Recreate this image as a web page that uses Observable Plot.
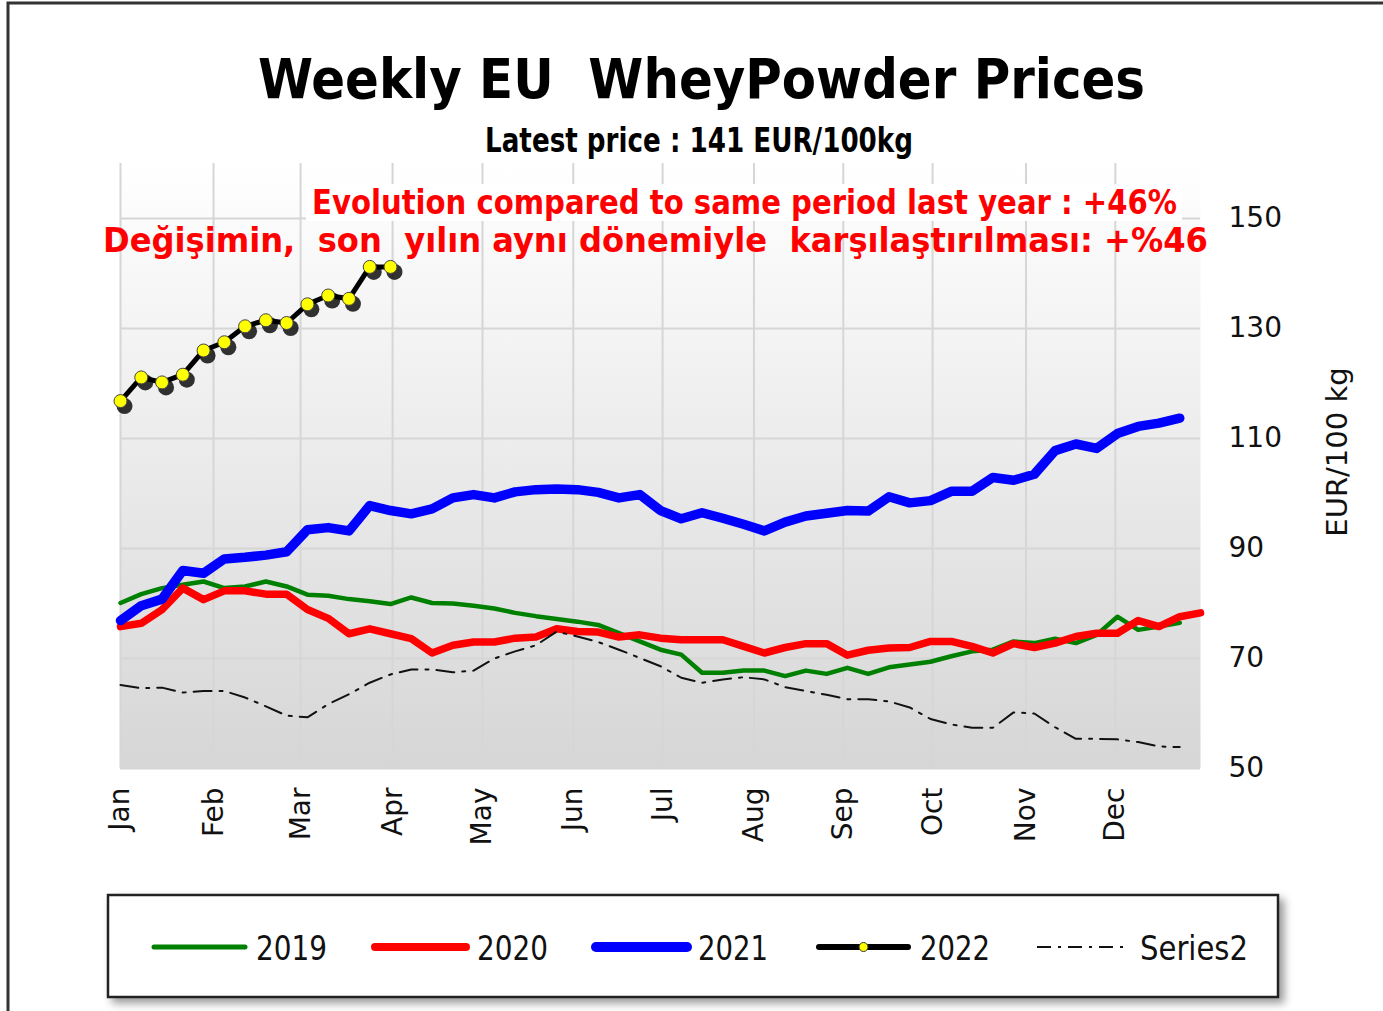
<!DOCTYPE html>
<html><head><meta charset="utf-8">
<script src="https://cdn.jsdelivr.net/npm/d3@7"></script>
<script src="https://cdn.jsdelivr.net/npm/@observablehq/plot@0.6"></script>
<style>
html,body{margin:0;padding:0;background:#fff;}
#wrap{position:relative;width:1383px;height:1011px;overflow:hidden;background:#fff;}
#wrap svg{position:absolute;left:0;top:0;}
</style></head><body><div id="wrap"></div>
<script>
// ---- data (weekly values, index = week of year) ----
const v2019 = [80.1,81.7,82.8,83.4,84.0,82.8,83.1,84.0,83.1,81.6,81.4,80.8,80.4,79.9,81.1,80.1,80.0,79.6,79.1,78.3,77.7,77.2,76.7,76.1,74.6,73.1,71.6,70.7,67.4,67.4,67.8,67.8,66.8,67.8,67.2,68.3,67.2,68.4,68.9,69.4,70.4,71.3,71.6,73.1,72.8,73.6,72.8,74.3,77.6,75.2,75.8,76.5];
const v2020 = [75.8,76.4,78.9,82.8,80.7,82.3,82.3,81.7,81.7,78.9,77.3,74.5,75.4,74.5,73.6,71.0,72.4,73.0,73.0,73.7,73.9,75.4,74.9,74.8,73.9,74.3,73.7,73.4,73.4,73.4,72.2,71.0,72.0,72.7,72.7,70.6,71.5,71.9,72.0,73.1,73.1,72.2,71.0,72.7,72.0,72.8,74.0,74.6,74.6,76.9,75.8,77.6,78.3];
const v2021 = [76.9,79.6,80.8,86.0,85.5,88.1,88.4,88.8,89.4,93.4,93.8,93.2,97.8,96.9,96.3,97.2,99.2,99.8,99.2,100.3,100.7,100.8,100.7,100.2,99.2,99.8,96.9,95.4,96.5,95.5,94.4,93.2,94.8,95.9,96.4,96.9,96.8,99.4,98.3,98.7,100.4,100.4,102.9,102.4,103.5,107.8,109.0,108.2,110.9,112.2,112.8,113.7];
const v2022 = [116.8,121.1,120.2,121.6,126.0,127.5,130.4,131.5,131.0,134.4,136.0,135.4,141.2,141.2];
const vSeries2 = [65.2,64.6,64.7,63.8,64.1,64.1,62.9,61.3,59.6,59.3,61.7,63.5,65.6,67.1,68.0,68.0,67.5,67.8,70.0,71.3,72.4,74.9,74.0,73.0,71.6,70.1,68.6,66.5,65.6,66.2,66.6,66.2,64.8,64.1,63.4,62.6,62.6,62.2,61.1,59.0,58.0,57.4,57.4,60.2,60.0,57.5,55.4,55.4,55.3,54.8,54.0,53.9];
const monthNames = ["Jan","Feb","Mar","Apr","May","Jun","Jul","Aug","Sep","Oct","Nov","Dec"];
const monthWeeks = [0,4.48,8.67,13.1,17.43,21.8,26.1,30.5,34.8,39.1,43.6,47.9];
const yTicks = [50,70,90,110,130,150];
const seriesNames = ["2019","2020","2021","2022","Series2"];
const titleText = "Weekly EU  WheyPowder Prices";
const subtitleText = "Latest price : 141 EUR/100kg";
const noteEn = "Evolution compared to same period last year : +46%";
const noteTr = "Değişimin,  son  yılın aynı dönemiyle  karşılaştırılması: +%46";
const yLabel = "EUR/100 kg";

const rows = arr => arr.map((v, i) => ({week: i, value: v}));
const d2019 = rows(v2019), d2020 = rows(v2020), d2021 = rows(v2021), d2022 = rows(v2022), dS2 = rows(vSeries2);
const XY = {x: "week", y: "value"};
const lineStyle = {strokeLinejoin: "round", strokeLinecap: "round"};

const chart = Plot.plot({
  width: 1383, height: 1011,
  marginTop: 163, marginRight: 183, marginBottom: 243, marginLeft: 120,
  x: {domain: [0, 52]},
  y: {domain: [50, 160]},
  style: {fontFamily: "DejaVu Sans, Verdana, sans-serif", fontSize: "28px", color: "#111", background: "transparent"},
  marks: [
    Plot.frame({fill: "url(#bgGrad)", stroke: "none"}),
    Plot.ruleY(yTicks, {stroke: "#d6d6d6", strokeWidth: 2}),
    Plot.ruleX(monthWeeks, {stroke: "#d6d6d6", strokeWidth: 2}),
    Plot.line(d2019, {...XY, ...lineStyle, stroke: "#008000", strokeWidth: 4.5}),
    Plot.line(d2020, {...XY, ...lineStyle, stroke: "#ff0000", strokeWidth: 7.5}),
    Plot.line(dS2, {...XY, stroke: "#111", strokeWidth: 2, strokeDasharray: "18,8,3,8"}),
    Plot.line(d2021, {...XY, ...lineStyle, stroke: "#0000ff", strokeWidth: 9.5}),
    Plot.dot(d2022, {...XY, r: 8, fill: "#000", fillOpacity: 0.8, dx: 4, dy: 5}),
    Plot.line(d2022, {...XY, ...lineStyle, stroke: "#000", strokeWidth: 5}),
    Plot.dot(d2022, {...XY, r: 6.5, fill: "#ffff00", stroke: "#444", strokeWidth: 1}),
    Plot.axisY({anchor: "right", ticks: yTicks, tickSize: 0, tickPadding: 28, label: null}),
    Plot.axisX({ticks: monthWeeks, tickFormat: d => monthNames[monthWeeks.indexOf(d)], tickRotate: -90, tickSize: 0, tickPadding: 19, label: null}),
    Plot.text([yLabel], {text: d => d, frameAnchor: "right", textAnchor: "middle", dx: 137, dy: -14, rotate: -90, fontSize: 29})
  ]
});
const wrap = document.getElementById("wrap");
wrap.appendChild(chart);
const defs = d3.select(chart).insert("defs", ":first-child");
const grad = defs.append("linearGradient").attr("id", "bgGrad").attr("x1", 0).attr("y1", 0).attr("x2", 0).attr("y2", 1);
grad.append("stop").attr("offset", "0%").attr("stop-color", "#ffffff");
grad.append("stop").attr("offset", "100%").attr("stop-color", "#d6d6d6");

// ---- overlay: frame, titles, legend ----
const ov = d3.select(wrap).append("svg").attr("width", 1383).attr("height", 1011).style("pointer-events", "none");
const odefs = ov.append("defs");
odefs.append("filter").attr("id", "sh").attr("x", "-5%").attr("y", "-20%").attr("width", "115%").attr("height", "150%")
  .append("feDropShadow").attr("dx", 5).attr("dy", 5).attr("stdDeviation", 4).attr("flood-color", "#000").attr("flood-opacity", 0.4);
ov.append("path").attr("d", "M8,1011 V3 H1383").attr("fill", "none").attr("stroke", "#333").attr("stroke-width", 3);

function txt(str, x, y, len, size, color, family) {
  ov.append("text").attr("x", x).attr("y", y).attr("textLength", len).attr("lengthAdjust", "spacingAndGlyphs")
    .attr("font-family", family || "DejaVu Sans Condensed, DejaVu Sans, sans-serif").attr("font-weight", "bold")
    .attr("font-size", size).attr("fill", color).style("white-space", "pre").text(str);
}
txt(titleText, 258, 98, 887, 55, "#000", "DejaVu Sans, sans-serif");
txt(subtitleText, 485, 152, 428, 33, "#000");
ov.append("rect").attr("x", 306).attr("y", 184).attr("width", 876).attr("height", 37).attr("fill", "#fff");
txt(noteEn, 312, 214, 865, 33, "#ff0000");
txt(noteTr, 103, 252, 1105, 33, "#ff0000");

// legend
ov.append("rect").attr("x", 108).attr("y", 895).attr("width", 1170).attr("height", 102)
  .attr("fill", "#fff").attr("stroke", "#222").attr("stroke-width", 2.5).attr("filter", "url(#sh)");
const legY = 947;
const legItems = [
  {x1: 154, x2: 245, lx: 256, lw: 71, stroke: "#008000", w: 5},
  {x1: 375, x2: 466, lx: 477, lw: 71, stroke: "#ff0000", w: 8},
  {x1: 596, x2: 687, lx: 698, lw: 70, stroke: "#0000ff", w: 10},
  {x1: 819, x2: 908, lx: 920, lw: 70, stroke: "#000", w: 6, dot: true},
  {x1: 1037, x2: 1130, lx: 1140, lw: 108, stroke: "#111", w: 2, dash: "14,7,3,7"}
];
legItems.forEach((it, i) => {
  const l = ov.append("line").attr("x1", it.x1).attr("x2", it.x2).attr("y1", legY).attr("y2", legY)
    .attr("stroke", it.stroke).attr("stroke-width", it.w).attr("stroke-linecap", it.dash ? "butt" : "round");
  if (it.dash) l.attr("stroke-dasharray", it.dash);
  if (it.dot) ov.append("circle").attr("cx", (it.x1 + it.x2) / 2).attr("cy", legY).attr("r", 4.5).attr("fill", "#ffff00").attr("stroke", "#333");
  ov.append("text").attr("x", it.lx).attr("y", 960).attr("textLength", it.lw).attr("lengthAdjust", "spacingAndGlyphs")
    .attr("font-family", "DejaVu Sans Condensed, DejaVu Sans, sans-serif").attr("font-size", 34).attr("fill", "#111")
    .text(seriesNames[i]);
});
</script></body></html>
